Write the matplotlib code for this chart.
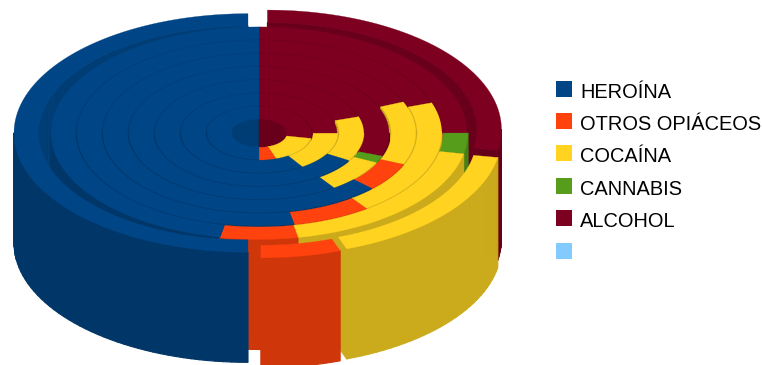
import numpy as np
import matplotlib
matplotlib.use('Agg')
import matplotlib.pyplot as plt
from matplotlib.collections import PolyCollection
from matplotlib.patches import Rectangle

plt.rcParams['font.family'] = ['Liberation Sans', 'DejaVu Sans']

# percent per ring, inner ring first, clockwise from 12 o'clock
alcohol = [28.1, 25.0, 20.0, 30.6, 18.6, 19.7, 25.0, 27.8]
cannabis = [0, 0, 0, 1.7, 0, 0, 3.1, 0]
cocaina = [16.7, 15.8, 13.6, 8.0, 12.8, 20.3, 18.9, 16.7]
opiaceos = [5.2, 0, 0, 0, 5.8, 6.9, 6.0, 5.5]
heroina = [50.0, 59.2, 66.4, 59.7, 62.8, 53.1, 47.0, 50.0]

series = [alcohol, cannabis, cocaina, opiaceos, heroina]
top_colors = ['#7e0021', '#579d1c', '#ffd320', '#ff420e', '#004586']
wall_colors = ['#640019', '#468016', '#cbab1c', '#cf360a', '#003668']
inner_colors = ['#69001b', '#468016', '#cbab1c', '#cf360a', '#003d75']

labels = ['HEROÍNA', 'OTROS OPIÁCEOS', 'COCAÍNA', 'CANNABIS', 'ALCOHOL', '']
legend_colors = ['#004586', '#ff420e', '#ffd320', '#579d1c', '#7e0021', '#83caff']

# geometry in pixels
CX, CY = 259, 133
SQUASH = 0.51
HEIGHT = 110
R0 = 26
RW = 26
GAP = 1.4
EXPLODE_OUTER = 11
EXPLODE_INNER = [0, 0.8, 0.8, 0.8, 0]


def pt(r, deg, ox, oy):
    a = np.radians(deg)
    return CX + ox + r * np.sin(a), CY + oy - r * np.cos(a) * SQUASH


def quad(p, q):
    # wall going down from the edge p-q
    return [p, q, (q[0], q[1] + HEIGHT), (p[0], p[1] + HEIGHT)]


walls = []
tops = []
n_rings = len(alcohol)
for k in range(n_rings):
    r_in = R0 + RW * k + GAP
    r_out = R0 + RW * (k + 1)
    start = 0.0
    for s, vals in enumerate(series):
        if vals[k] == 0:
            continue
        explode = EXPLODE_OUTER if k == n_rings - 1 else EXPLODE_INNER[s]
        end = start + vals[k] * 3.6
        mid = np.radians((start + end) / 2)
        ox = explode * np.sin(mid)
        oy = -explode * np.cos(mid) * SQUASH
        th = np.linspace(start, end, max(int((end - start) / 2), 2) + 1)
        outer = [pt(r_out, t, ox, oy) for t in th]
        inner = [pt(r_in, t, ox, oy) for t in th]
        tops.append((outer + inner[::-1], top_colors[s]))
        for i in range(len(th) - 1):
            tm = np.radians((th[i] + th[i + 1]) / 2)
            if np.cos(tm) < 0:
                walls.append(((outer[i][1] + outer[i + 1][1]) / 2, quad(outer[i], outer[i + 1]), wall_colors[s]))
            else:
                walls.append(((inner[i][1] + inner[i + 1][1]) / 2, quad(inner[i], inner[i + 1]), inner_colors[s]))
        # flat ends of the slice
        if np.sin(np.radians(start)) < 0:
            walls.append(((outer[0][1] + inner[0][1]) / 2, quad(inner[0], outer[0]), wall_colors[s]))
        if np.sin(np.radians(end)) > 0:
            walls.append(((outer[-1][1] + inner[-1][1]) / 2, quad(inner[-1], outer[-1]), wall_colors[s]))
        start = end

walls.sort(key=lambda w: w[0])

fig = plt.figure(figsize=(7.62, 3.65), dpi=100)
ax = fig.add_axes([0, 0, 1, 1])
ax.set_xlim(0, 762)
ax.set_ylim(365, 0)
ax.axis('off')

ax.add_collection(PolyCollection([w[1] for w in walls], facecolors=[w[2] for w in walls],
                                 edgecolors=[w[2] for w in walls], linewidths=0.8, zorder=2))
ax.add_collection(PolyCollection([t[0] for t in tops], facecolors=[t[1] for t in tops],
                                 edgecolors=[t[1] for t in tops], linewidths=0.2, zorder=3))

# legend
for i, (lab, col) in enumerate(zip(labels, legend_colors)):
    y = 88.5 + i * 32.4
    ax.add_patch(Rectangle((556, y - 8), 16, 16, facecolor=col, edgecolor='none', zorder=4))
    ax.text(580, y + 3.5, lab, fontsize=14.4, color='black', va='center', ha='left', zorder=4)

fig.savefig('out.png', dpi=100)
